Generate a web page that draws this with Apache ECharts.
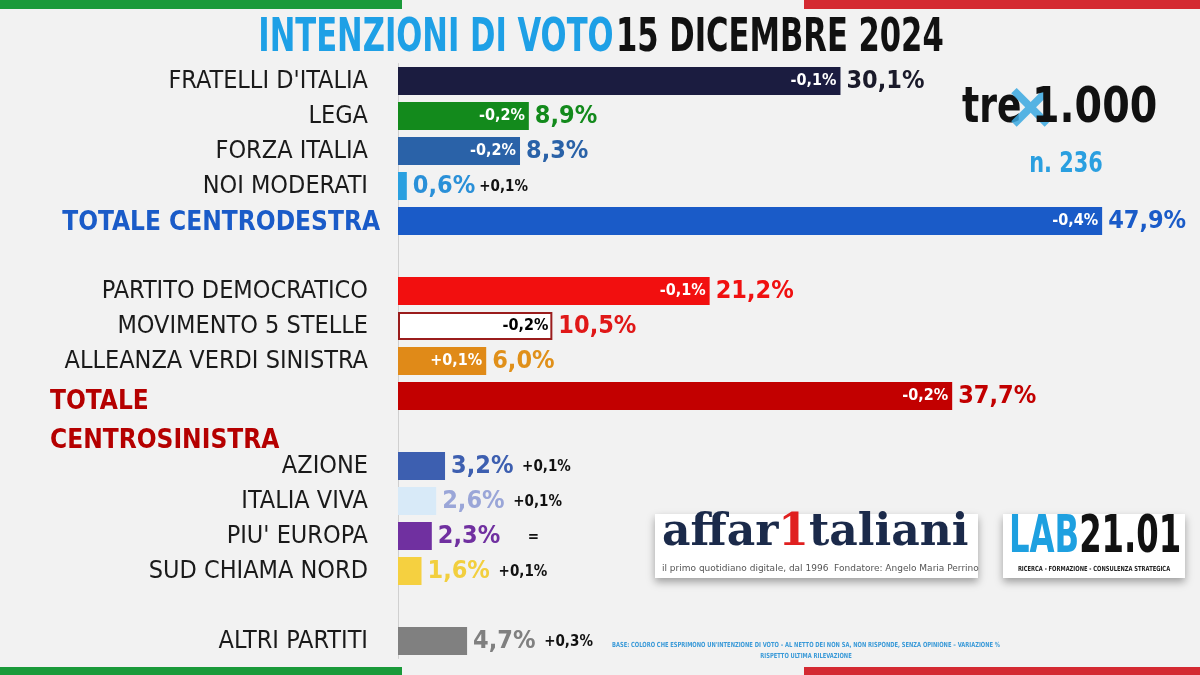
<!DOCTYPE html>
<html>
<head>
<meta charset="utf-8">
<script src="https://cdn.jsdelivr.net/npm/echarts@6/dist/echarts.min.js"></script>
<style>
  html, body { margin: 0; padding: 0; background: #f2f2f2; }
  #main { width: 1200px; height: 675px; }
</style>
</head>
<body>
<div id="main"></div>
<script>
// dati del sondaggio
var partiti = ["FRATELLI D'ITALIA", 'LEGA', 'FORZA ITALIA', 'NOI MODERATI', 'TOTALE CENTRODESTRA', '',
  'PARTITO DEMOCRATICO', 'MOVIMENTO 5 STELLE', 'ALLEANZA VERDI SINISTRA', 'TOTALE CENTROSINISTRA', '',
  'AZIONE', 'ITALIA VIVA', "PIU' EUROPA", 'SUD CHIAMA NORD', '', 'ALTRI PARTITI'];
var percentuali = [30.1, 8.9, 8.3, 0.6, 47.9, null, 21.2, 10.5, 6.0, 37.7, null, 3.2, 2.6, 2.3, 1.6, null, 4.7];
var variazioni = ['-0,1%', '-0,2%', '-0,2%', '+0,1%', '-0,4%', '', '-0,1%', '-0,2%', '+0,1%', '-0,2%', '',
  '+0,1%', '+0,1%', '=', '+0,1%', '', '+0,3%'];
// variazione scritta dentro la barra (true) o dopo il valore (false)
var variazioneDentro = [true, true, true, false, true, false, true, true, true, true, false,
  false, false, false, false, false, false];

var coloriBarre = ['#1b1c40', '#138a1c', '#2a62a8', '#2aa0e0', '#1a5bc8', null, '#f20f0f', '#ffffff', '#e08a18', '#c20000', null,
  '#3d5fb0', '#d8eaf8', '#7030a0', '#f5d040', null, '#808080'];
var coloriValori = ['#1a1a2a', '#138a1c', '#2a62a8', '#2a90d8', '#1a5bc8', null, '#f01010', '#e01818', '#e0901a', '#c20000', null,
  '#3d5fb0', '#9aa6d8', '#7030a0', '#f2cf3e', null, '#808080'];
var coloriVarDentro = ['#fff', '#fff', '#fff', '#000', '#fff', '#fff', '#fff', '#000', '#fff', '#fff'];

var COND = '"DejaVu Sans Condensed", "DejaVu Sans", sans-serif';

function fmt(v) { return v.toFixed(1).replace('.', ',') + '%'; }

var rich = { c: { color: '#111', fontFamily: COND, fontWeight: 'bold', fontSize: 15, padding: [3, 0, 0, 4] } };
for (var i = 0; i < partiti.length; i++) {
  if (coloriValori[i]) rich['v' + i] = { color: coloriValori[i], fontFamily: COND, fontWeight: 'bold', fontSize: 25 };
}

var datiBarre = percentuali.map(function (v, i) {
  if (v === null) return '-';
  var item = { value: v, itemStyle: { color: coloriBarre[i] } };
  if (i === 7) { item.itemStyle.borderColor = '#9a1c1c'; item.itemStyle.borderWidth = 2; }
  return item;
});

var myChart = echarts.init(document.getElementById('main'));

var option = {
  backgroundColor: '#f2f2f2',
  animation: false,
  grid: { left: 398, right: 67, top: 63.5, bottom: 16.5 },
  xAxis: { type: 'value', min: 0, max: 50, show: false },
  yAxis: {
    type: 'category',
    inverse: true,
    data: partiti,
    axisLine: { show: true, lineStyle: { color: '#d0d0d0', width: 1 } },
    axisTick: { show: false },
    axisLabel: {
      interval: 0,
      margin: 30,
      formatter: function (val, idx) {
        if (idx === 4) return '{tcd|' + val + '}';
        if (idx === 9) return '{tcs|TOTALE}';
        if (idx === 10) return '{tcs2|CENTROSINISTRA}';
        return '{n|' + val + '}';
      },
      rich: {
        n: { color: '#1a1a1a', fontFamily: COND, fontSize: 25 },
        tcd: { color: '#1a5bc8', fontFamily: COND, fontWeight: 'bold', fontSize: 26, padding: [4, -12, 0, 0] },
        tcs: { color: '#b50000', fontFamily: COND, fontWeight: 'bold', fontSize: 26, width: 318, align: 'left', padding: [12, 0, 0, 0] },
        tcs2: { color: '#b50000', fontFamily: COND, fontWeight: 'bold', fontSize: 26, width: 318, align: 'left', padding: [20, 0, 0, 0] }
      }
    }
  },
  series: [
    {
      type: 'bar',
      barWidth: 28,
      data: datiBarre,
      label: {
        show: true,
        position: 'right',
        distance: 6,
        formatter: function (p) {
          var i = p.dataIndex;
          var s = '{v' + i + '|' + fmt(p.value) + '}';
          if (!variazioneDentro[i] && variazioni[i]) {
            s += (variazioni[i] === '=' ? '{c|     =}' : (i === 3 ? '{c|' : '{c| ') + variazioni[i] + '}');
          }
          return s;
        },
        rich: rich
      }
    },
    {
      type: 'bar',
      barWidth: 28,
      barGap: '-100%',
      silent: true,
      itemStyle: { color: 'rgba(0,0,0,0)' },
      data: percentuali.map(function (v) { return v === null ? '-' : v; }),
      label: {
        show: true,
        position: 'insideRight',
        distance: 4,
        formatter: function (p) {
          var i = p.dataIndex;
          return variazioneDentro[i] ? '{w' + (coloriVarDentro[i] === '#000' ? 'k' : 'w') + '|' + variazioni[i] + '}' : '';
        },
        rich: {
          ww: { color: '#fff', fontFamily: COND, fontWeight: 'bold', fontSize: 16 },
          wk: { color: '#000', fontFamily: COND, fontWeight: 'bold', fontSize: 16 }
        }
      }
    }
  ],
  graphic: [
    // bande tricolore
    { type: 'rect', shape: { x: 0, y: 0, width: 402, height: 9 }, style: { fill: '#1a9a3a' } },
    { type: 'rect', shape: { x: 804, y: 0, width: 396, height: 9 }, style: { fill: '#d42a32' } },
    { type: 'rect', shape: { x: 0, y: 667, width: 402, height: 8 }, style: { fill: '#1a9a3a' } },
    { type: 'rect', shape: { x: 804, y: 667, width: 396, height: 8 }, style: { fill: '#d42a32' } },
    // titolo
    { type: 'text', x: 601, y: 16, scaleX: 0.74, style: {
      text: '{a|INTENZIONI DI VOTO} {b|15 DICEMBRE 2024}', align: 'center',
      rich: {
        a: { fill: '#1ea0e6', font: 'bold 46px ' + COND },
        b: { fill: '#111', font: 'bold 46px ' + COND }
      } } },
    // logo tre x 1.000
    { type: 'text', x: 962, y: 84, scaleX: 0.8, style: { text: 'tre', fill: '#111', font: 'bold 50px ' + COND } },
    { type: 'text', x: 1003, y: 78, style: { text: '×', fill: '#3aa8e0', opacity: 0.85, font: 'bold 66px "DejaVu Sans"' } },
    { type: 'text', x: 1032, y: 84, scaleX: 0.88, style: { text: '1.000', fill: '#111', font: 'bold 50px ' + COND } },
    { type: 'text', x: 1066, y: 150, scaleX: 0.8, style: { text: 'n. 236', align: 'center', fill: '#2a9fe0', font: 'bold 29px ' + COND } },
    // affaritaliani
    { type: 'rect', shape: { x: 655, y: 514, width: 323, height: 64 }, style: { fill: '#fff', shadowBlur: 8, shadowColor: 'rgba(0,0,0,0.35)', shadowOffsetY: 4 } },
    { type: 'text', x: 662, y: 512, style: { text: '{n|affar}{r|1}{n|taliani}', rich: {
      n: { fill: '#1b2a4a', font: 'bold 44px "DejaVu Serif"' },
      r: { fill: '#e02020', font: 'bold 44px "DejaVu Serif"' } } } },
    { type: 'text', x: 662, y: 564, style: { text: 'il primo quotidiano digitale, dal 1996  Fondatore: Angelo Maria Perrino', fill: '#555', font: '9px "DejaVu Sans"' } },
    // LAB21.01
    { type: 'rect', shape: { x: 1003, y: 514, width: 182, height: 64 }, style: { fill: '#fff', shadowBlur: 8, shadowColor: 'rgba(0,0,0,0.35)', shadowOffsetY: 4 } },
    { type: 'text', x: 1009, y: 512, scaleX: 0.69, style: { text: '{a|LAB}{b|21.01}', rich: {
      a: { fill: '#1ea0e0', font: 'bold 52px ' + COND },
      b: { fill: '#111', font: 'bold 52px ' + COND } } } },
    { type: 'text', x: 1094, y: 566, scaleX: 0.82, style: { text: 'RICERCA - FORMAZIONE - CONSULENZA STRATEGICA', align: 'center', fill: '#222', font: 'bold 7px ' + COND } },
    // nota
    { type: 'text', x: 806, y: 640, scaleX: 0.82, style: {
      text: 'BASE: COLORO CHE ESPRIMONO UN\'INTENZIONE DI VOTO – AL NETTO DEI NON SA, NON RISPONDE, SENZA OPINIONE – VARIAZIONE %\nRISPETTO ULTIMA RILEVAZIONE',
      align: 'center', fill: '#3a9ad8', font: 'bold 7px ' + COND, lineHeight: 11 } }
  ]
};

myChart.setOption(option);
</script>
</body>
</html>
